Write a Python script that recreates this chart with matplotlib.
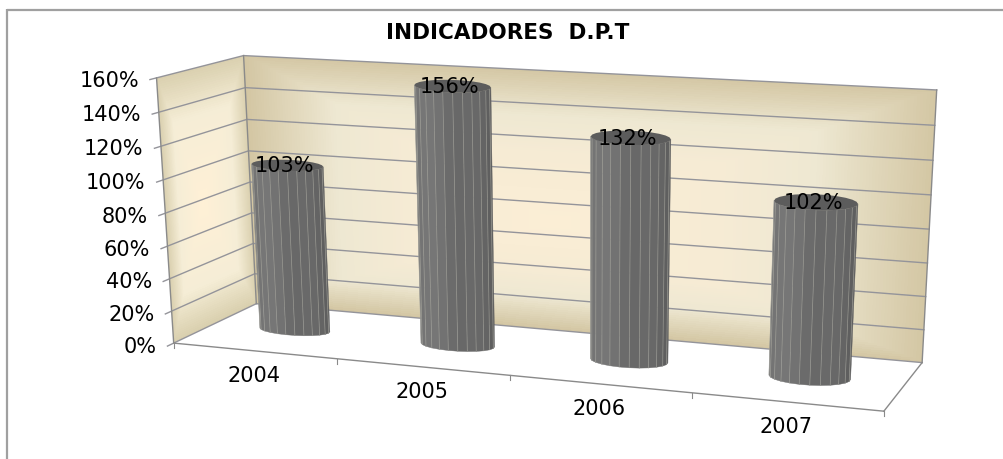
import matplotlib
matplotlib.use("Agg")
import matplotlib.pyplot as plt
import numpy as np
from matplotlib.colors import to_rgb

# Data
years = ["2004", "2005", "2006", "2007"]
values = [1.03, 1.56, 1.32, 1.02]
value_labels = ["103%", "156%", "132%", "102%"]
y_ticks = [0.0, 0.2, 0.4, 0.6, 0.8, 1.0, 1.2, 1.4, 1.6]
y_tick_labels = ["0%", "20%", "40%", "60%", "80%", "100%", "120%", "140%", "160%"]

YMAX = y_ticks[-1]
NCAT = len(years)

# Fit a camera: box coordinates (category, depth, value) -> screen pixels
box_pts = [(0, 0, 0), (4, 0, 0), (0, 1, 0), (4, 1, 0), (0, 0, 1.6), (0, 1, 1.6),
           (4, 1, 1.6), (1, 0, 0), (2, 0, 0), (3, 0, 0), (4, 1, 0.8), (0, 1, 0.8)]
pix_pts = [(173, 343), (884, 410), (257, 304), (922, 363), (157, 78), (243, 56),
           (937, 90), (338, 359), (509, 375), (692, 394), (929, 229), (250, 181)]
rows = []
for (a, b, c), (px, py) in zip(box_pts, pix_pts):
    h = [a, b, c, 1]
    rows.append(h + [0, 0, 0, 0] + [-px * k for k in h])
    rows.append([0, 0, 0, 0] + h + [-py * k for k in h])
P = np.linalg.svd(np.array(rows, dtype=float))[2][-1].reshape(3, 4)


def project(a, b, c):
    a, b, c = np.broadcast_arrays(a, b, c)
    q = P @ np.array([a.ravel(), b.ravel(), c.ravel(), np.ones(a.size)])
    return (q[0] / q[2]).reshape(a.shape), (q[1] / q[2]).reshape(a.shape)


def ramp(d, stops):
    pos = [s[0] for s in stops]
    cols = np.array([to_rgb(s[1]) for s in stops])
    return np.dstack([np.interp(d, pos, cols[:, i]) for i in range(3)])


def wall(ax, aa, bb, cc, fx, fy, cx, cy, stops):
    # rectangular path gradient around (cx, cy), in wall fractions
    dx = np.where(fx < cx, (cx - fx) / cx, (fx - cx) / (1 - cx))
    dy = np.where(fy < cy, (cy - fy) / cy, (fy - cy) / (1 - cy))
    X, Y = project(aa, bb, cc)
    C = ramp(np.maximum(dx, dy)[:-1, :-1], stops)
    ax.pcolormesh(X, Y, C, shading="flat", antialiased=False, linewidth=0, rasterized=True)


fig = plt.figure(figsize=(10.04, 4.59), dpi=100)
ax = fig.add_axes([0, 0, 1, 1])
ax.set_xlim(0, 1004)
ax.set_ylim(459, 0)
ax.axis("off")

# chart frame: only top and left edges show
ax.plot([7, 1004], [9.5, 9.5], color="#a0a0a0", lw=1.6, solid_capstyle="butt")
ax.plot([7, 7], [9, 459], color="#a0a0a0", lw=1.6, solid_capstyle="butt")

ax.text(508, 33, "INDICADORES  D.P.T", ha="center", va="center",
        fontsize=15.5, fontweight="bold", color="black")

stops_back = [(0, "#fbeed5"), (0.45, "#f6ebd4"), (0.7, "#eee8d2"), (1, "#d3c6a3")]
stops_side = [(0, "#fff0d6"), (0.65, "#f5edd6"), (1, "#d9cfae")]

# back wall
fu, fv = np.meshgrid(np.linspace(0, 1, 240), np.linspace(0, 1, 120))
wall(ax, fu * NCAT, np.ones_like(fu), fv * YMAX, fu, fv, 0.47, 0.42, stops_back)
# side wall
wall(ax, np.zeros_like(fu), fu, fv * YMAX, fu, fv, 0.42, 0.48, stops_side)

GRID = "#94949a"
for v, label in zip(y_ticks, y_tick_labels):
    xs, ys = project([0, 0, NCAT], [-0.07, 1, 1], [v, v, v])
    ax.plot(xs, ys, color=GRID, lw=1.0, solid_joinstyle="miter")
    ax.text(xs[0] - 11, ys[0] + 1, label, ha="right", va="center", fontsize=15, color="black")

# box edges
for p, q in [((0, 0, 0), (0, 0, YMAX)), ((0, 1, 0), (0, 1, YMAX)), ((NCAT, 1, 0), (NCAT, 1, YMAX)),
             ((0, 0, 0), (NCAT, 0, 0)), ((NCAT, 0, 0), (NCAT, 1, 0))]:
    xs, ys = project([p[0], q[0]], [p[1], q[1]], [p[2], q[2]])
    ax.plot(xs, ys, color="#8a8a8a", lw=1.0)

# category ticks and labels
for i in range(NCAT + 1):
    xs, ys = project(i, 0, 0)
    ax.plot([xs, xs], [ys, ys + 5], color="#8a8a8a", lw=0.8)
for i, year in enumerate(years):
    xs, ys = project(i + 0.5, 0, 0)
    ax.text(xs, ys + 25, year, ha="center", va="center", fontsize=15, color="black")

# cylinders: screen-flat ellipses, tilted a little with the front edge
NFACET = 24
RU = 0.22
T0 = 0.5
CAT_SHIFT = 0.0
theta = np.linspace(0, 2 * np.pi, NFACET + 1) - np.pi / 2
for i, val in enumerate(values):
    ca = i + 0.5 + CAT_SHIFT
    ry = 5.5 + 0.8 * i
    ring = []
    for v in (0, val):
        x0, y0 = project(ca, T0, v)
        xl, yl = project(ca - RU, T0, v)
        xr, yr = project(ca + RU, T0, v)
        ring.append((x0 + np.cos(theta) * (xr - xl) / 2,
                     y0 + 0.6 * np.cos(theta) * (yr - yl) / 2 - np.sin(theta) * ry))
    (bx, by), (tx, ty) = ring
    for k in range(NFACET):
        mid = (theta[k] + theta[k + 1]) / 2
        if np.sin(mid) > 0:
            continue
        # lighter on the left, darker on the right
        g = 0.47 - 0.09 * (np.cos(mid) + 1) / 2 + 0.012 * np.sin(5 * mid)
        ax.fill([bx[k], bx[k + 1], tx[k + 1], tx[k]], [by[k], by[k + 1], ty[k + 1], ty[k]],
                color=(g, g, g), lw=0.3, zorder=3)
        ax.plot([bx[k], tx[k]], [by[k], ty[k]], color="#a8a8a0", lw=0.5, alpha=0.7, zorder=3.1)
    ax.fill(tx, ty, color="#5c5c5c", lw=0, zorder=3.2)
    cx, cy = project(ca, T0, val)
    ax.text(cx - 3, cy + 1, value_labels[i], ha="center", va="center", fontsize=15,
            color="black", zorder=4)

fig.savefig("out.png", dpi=100)
